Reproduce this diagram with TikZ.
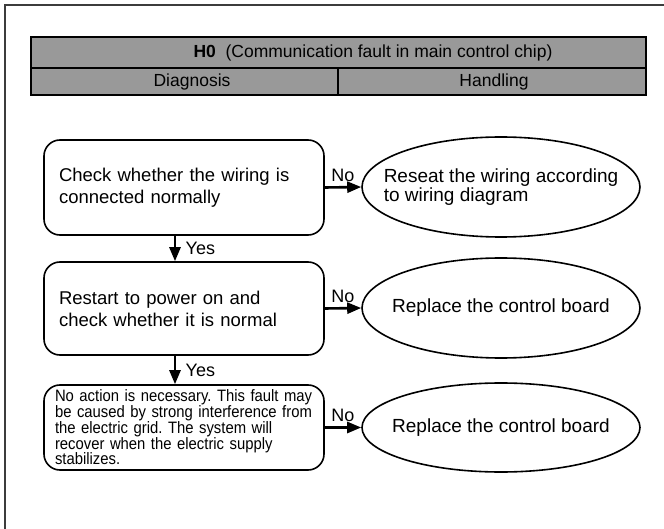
\documentclass[tikz,border=0pt]{standalone}
\usepackage{fontspec}
\setmainfont{Liberation Sans}
\newfontfamily\narrowsans[FakeStretch=0.9]{Liberation Sans}
\usetikzlibrary{shapes.geometric,arrows.meta}
\definecolor{headC}{RGB}{153,153,153}
\definecolor{frameC}{RGB}{60,60,60}

\begin{document}
\frenchspacing
\begin{tikzpicture}[
  x=1pt, y=-1pt,  % image pixel scale, y pointing down
  checkbox/.style={draw, line width=1.6pt, rounded corners=16pt, minimum width=280pt,
                   minimum height=95pt, inner xsep=15pt, text width=250pt, align=left,
                   font=\fontsize{18.5}{22}\selectfont},
  notebox/.style={checkbox, minimum height=85pt, inner xsep=11pt, text width=258pt,
                  font=\narrowsans\fontsize{16.5}{15.8}\selectfont},
  action/.style={draw, ellipse, line width=1.6pt, minimum width=278pt, minimum height=100pt, inner sep=0pt},
  actiontext/.style={align=left, font=\fontsize{19}{18.5}\selectfont},
  flow/.style={line width=2.6pt, -{Triangle[length=14pt, width=11pt]}},
  answer/.style={font=\fontsize{18}{20}\selectfont},
  headtext/.style={font=\fontsize{17.5}{20}\selectfont}
]
\useasboundingbox (0,0) rectangle (664,529);

% ---------- page frame ----------
\draw[frameC, line width=1.4pt] (5,529) -- (5,5) -- (664,5);

% ---------- header table ----------
\fill[headC] (31,37) rectangle (646,95);
\draw[line width=2.6pt] (31,37) rectangle (646,95);
\draw[line width=2.6pt] (31,68) -- (646,68);
\draw[line width=2.6pt] (338,68) -- (338,95);
\node[headtext] (title) at (373,52.5) {\textbf{H0}\ \ (Communication fault in main control chip)};
\node[headtext] (diag) at (192,81.5) {Diagnosis};
\node[headtext] (handle) at (494,81.5) {Handling};

% ---------- diagnosis column ----------
\node[checkbox] (wiring) at (184,187.5)
  {Check whether the wiring is\\connected normally};
\node[checkbox, minimum height=93pt] (restart) at (184,308.5)
  {Restart to power on and\\check whether it is normal};
\node[notebox] (noaction) at (184,427.5)
  {No action is necessary. This fault may\\be caused by strong interference from\\
   the electric grid. The system will\\recover when the electric supply\\stabilizes.};

% ---------- handling column ----------
\node[action] (reseat) at (501,187) {};
\node[actiontext] (reseattext) at (reseat) {Reseat the wiring according\\to wiring diagram};
\node[action] (replaceA) at (501,308) {};
\node[actiontext] (replaceAtext) at (replaceA) {Replace the control board};
\node[action, minimum height=89pt] (replaceB) at (501,427.5) {};
\node[actiontext] (replaceBtext) at (replaceB) {Replace the control board};

% ---------- connectors ----------
\draw[flow] (wiring.east) -- node[answer, above=1pt] {No} (reseat.west);
\draw[flow] (restart.east) -- node[answer, above=1pt] {No} (replaceA.west);
\draw[flow] (noaction.east) -- node[answer, above=1pt] {No} (replaceB.west);
\draw[flow] ([xshift=-9pt]wiring.south) -- node[answer, right=6pt] {Yes} ([xshift=-9pt]restart.north);
\draw[flow] ([xshift=-9pt]restart.south) -- node[answer, right=6pt] {Yes} ([xshift=-9pt]noaction.north);

\end{tikzpicture}
\end{document}
